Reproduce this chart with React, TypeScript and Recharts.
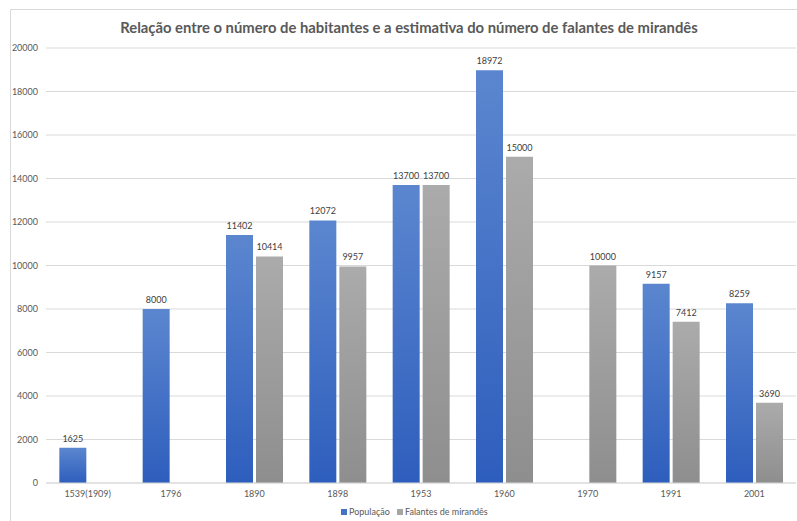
import { BarChart, Bar, XAxis, YAxis, CartesianGrid, LabelList } from 'recharts';

const categories = ['1539(1909)', '1796', '1890', '1898', '1953', '1960', '1970', '1991', '2001'];
const populacao = [1625, 8000, 11402, 12072, 13700, 18972, null, 9157, 8259];
const falantes = [null, null, 10414, 9957, 13700, 15000, 10000, 7412, 3690];
const yTicks = [0, 2000, 4000, 6000, 8000, 10000, 12000, 14000, 16000, 18000, 20000];

const data = categories.map((year, i) => ({
  year,
  populacao: populacao[i],
  falantes: falantes[i],
}));

const FONT = 'Lato, "Open Sans", sans-serif';

// rótulo acima da barra, só quando há valor
const renderLabel = (props: any) => {
  const { x, y, width, value } = props;
  if (value === null || value === undefined) return null;
  return (
    <text x={x + width / 2} y={y - 6} textAnchor="middle" fontSize={9} fill="#404040" fontFamily={FONT}>
      {value}
    </text>
  );
};

const legendItems = [
  { label: 'População', color: '#4472C4' },
  { label: 'Falantes de mirandês', color: '#A5A5A5' },
];

export default function App() {
  return (
    <div style={{ position: 'fixed', left: 0, top: 0, width: 797, height: 521, overflow: 'hidden', background: '#fff' }}>
      <BarChart
        width={797}
        height={521}
        data={data}
        margin={{ top: 48, right: 1, left: 0, bottom: 8 }}
        barCategoryGap="16%"
        barGap={3}
      >
        <defs>
          <linearGradient id="gradBlue" x1="0" y1="0" x2="0" y2="1">
            <stop offset="0%" stopColor="#5B86CF" />
            <stop offset="100%" stopColor="#2E5EBD" />
          </linearGradient>
          <linearGradient id="gradGray" x1="0" y1="0" x2="0" y2="1">
            <stop offset="0%" stopColor="#ABABAB" />
            <stop offset="100%" stopColor="#8E8E8E" />
          </linearGradient>
        </defs>
        {/* moldura do gráfico (só esquerda e topo visíveis) */}
        <path d="M10.5,530 L10.5,9.5 L800,9.5" fill="none" stroke="#d9d9d9" />
        <text x={409} y={33} textAnchor="middle" fontFamily={FONT} fontWeight={700} fontSize={14.8} fill="#595959">
          Relação entre o número de habitantes e a estimativa do número de falantes de mirandês
        </text>
        <g>
          <rect x={341} y={509} width={6} height={6} fill={legendItems[0].color} />
          <text x={349} y={515} fontFamily={FONT} fontSize={9} fill="#595959">{legendItems[0].label}</text>
          <rect x={397} y={509} width={6} height={6} fill={legendItems[1].color} />
          <text x={405} y={515} fontFamily={FONT} fontSize={9} fill="#595959">{legendItems[1].label}</text>
        </g>
        <CartesianGrid vertical={false} stroke="#d9d9d9" />
        <XAxis
          dataKey="year"
          axisLine={{ stroke: '#d9d9d9' }}
          tickLine={false}
          height={30}
          interval={0}
          tick={{ fontSize: 9, fill: '#595959', fontFamily: FONT }}
        />
        <YAxis
          width={46}
          domain={[0, 20000]}
          ticks={yTicks}
          axisLine={false}
          tickLine={false}
          tick={{ fontSize: 9, fill: '#595959', fontFamily: FONT }}
        />
        <Bar dataKey="populacao" fill="url(#gradBlue)" isAnimationActive={false}>
          <LabelList dataKey="populacao" content={renderLabel} />
        </Bar>
        <Bar dataKey="falantes" fill="url(#gradGray)" isAnimationActive={false}>
          <LabelList dataKey="falantes" content={renderLabel} />
        </Bar>
      </BarChart>
    </div>
  );
}
